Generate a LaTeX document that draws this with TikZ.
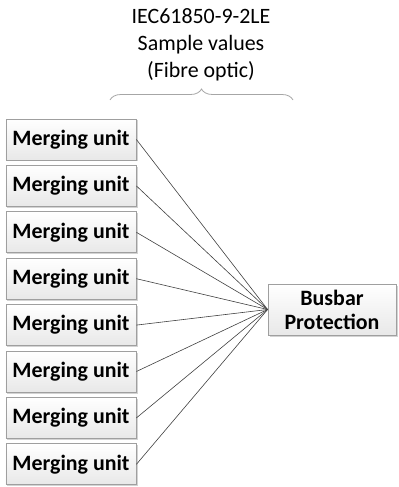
\documentclass[tikz,border=0pt]{standalone}
\usepackage{fontspec}
\setmainfont{Carlito}
\usetikzlibrary{shadows,decorations.pathreplacing}
\begin{document}
\begin{tikzpicture}[x=1bp,y=-1bp,
  boxbase/.style={draw=gray!75, line width=0.8bp, top color=white, bottom color=gray!18,
    drop shadow={shadow xshift=1.5bp, shadow yshift=-1.5bp, opacity=0.35, fill=gray},
    inner sep=0pt, align=center, font=\fontsize{22}{25}\selectfont\bfseries},
  mu/.style={boxbase, minimum width=130bp, minimum height=41bp},
  bp/.style={boxbase, minimum width=128bp, minimum height=51bp},
  link/.style={draw=black!75, line width=0.6bp},
  title/.style={font=\fontsize{22}{27}\selectfont, align=center, inner sep=0pt}]
\useasboundingbox (0,0) rectangle (398,487);
\node[title] (t) at (201,45) {IEC61850-9-2LE\\Sample values\\(Fibre optic)};
\coordinate (bl) at (110,100);
\coordinate (br) at (293,100);
\draw[gray!70, line width=0.8bp, decorate, decoration={brace, amplitude=11bp, aspect=0.5}] (bl) -- (br);
\node[bp] (bus) at (332,309.5) {Busbar\\[-1bp]Protection};
\foreach \i in {0,...,7} {
  \node[mu] (m\i) at (71,{139.5+46.4*\i}) {Merging unit};
}
\foreach \i in {0,...,7} {
  \draw[link] (m\i.east) -- (bus.west);
}
\end{tikzpicture}
\end{document}
